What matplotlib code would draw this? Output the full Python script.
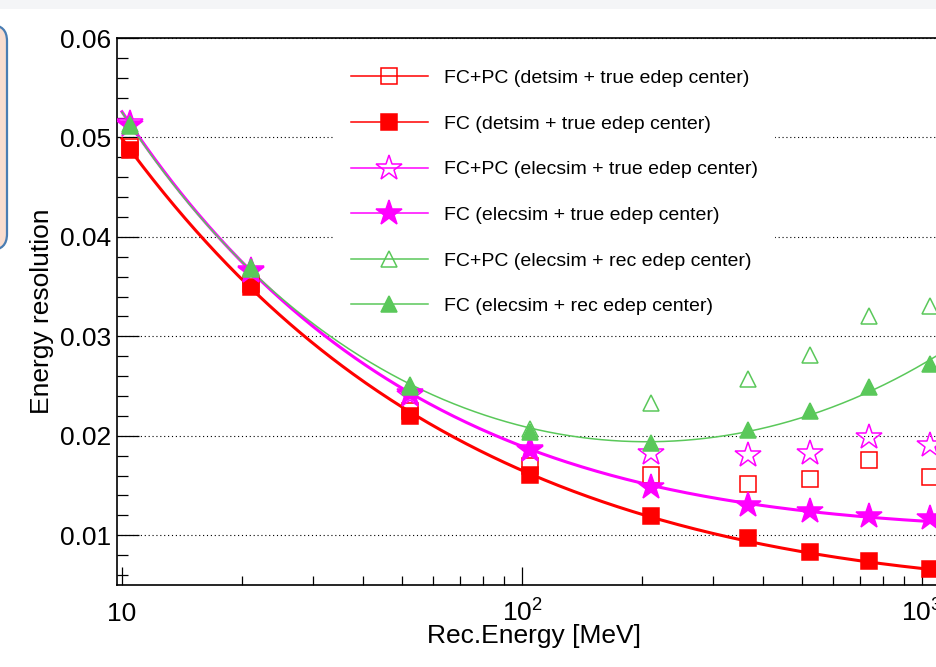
import numpy as np
import matplotlib
matplotlib.use("Agg")
import matplotlib.pyplot as plt
from matplotlib.lines import Line2D
from matplotlib.patches import FancyBboxPatch, Rectangle
from matplotlib.transforms import IdentityTransform
from matplotlib.ticker import (FixedLocator, FuncFormatter, MultipleLocator,
                               LogLocator, NullFormatter)

plt.rcParams["font.family"] = ["Liberation Sans", "DejaVu Sans"]
plt.rcParams["mathtext.fontset"] = "custom"
plt.rcParams["mathtext.rm"] = "Liberation Sans"
plt.rcParams["mathtext.it"] = "Liberation Sans:italic"

# Reconstructed energy points [MeV]
energy = [10.5, 21, 52.5, 105, 210, 367.5, 525, 735, 1050]

# Energy resolution for each configuration
fcpc_detsim_true = [0.0490, 0.0353, 0.0225, 0.0170, 0.0161, 0.0152, 0.0157, 0.0176, 0.0159]
fc_detsim_true = [0.0487, 0.0350, 0.0220, 0.0161, 0.0119, 0.0097, 0.0083, 0.0074, 0.0066]
fcpc_elecsim_true = [0.0515, 0.0367, 0.0241, 0.0187, 0.0183, 0.0181, 0.0183, 0.0199, 0.0191]
fc_elecsim_true = [0.0513, 0.0366, 0.0243, 0.0186, 0.0149, 0.0130, 0.0124, 0.0119, 0.0117]
fcpc_elecsim_rec = [0.0514, 0.0370, 0.0251, 0.0207, 0.0233, 0.0257, 0.0281, 0.0320, 0.0331]
fc_elecsim_rec = [0.0512, 0.0368, 0.0249, 0.0204, 0.0193, 0.0206, 0.0225, 0.0249, 0.0272]

labels = [
    "FC+PC (detsim + true edep center)",
    "FC (detsim + true edep center)",
    "FC+PC (elecsim + true edep center)",
    "FC (elecsim + true edep center)",
    "FC+PC (elecsim + rec edep center)",
    "FC (elecsim + rec edep center)",
]

RED = "#ff0000"
MAG = "#ff00ff"
GRN = "#5ac85a"

W, H, DPI = 936, 667, 100
fig = plt.figure(figsize=(W / DPI, H / DPI), dpi=DPI)
fig.patch.set_facecolor("white")

# page decorations: light band on top and a rounded box on the left edge
fig.patches.append(Rectangle((0, 1 - 9 / H), 1, 9 / H, transform=fig.transFigure,
                             facecolor="#f4f5f7", edgecolor="none", zorder=0))
fig.patches.append(FancyBboxPatch((-40, H - 250), 47, 225,
                                  boxstyle="round,pad=0,rounding_size=16",
                                  transform=IdentityTransform(),
                                  facecolor="#f9ddcf", edgecolor="#4a7db3",
                                  linewidth=1.6, zorder=0))

# axes geometry in pixels
ax_left, ax_right, ax_top, ax_bottom = 117, 960, 38, 585
ax = fig.add_axes([ax_left / W, 1 - ax_bottom / H,
                   (ax_right - ax_left) / W, (ax_bottom - ax_top) / H])
ax.set_xscale("log")
x_at_10 = 122
dec = 400.0
xmin = 10 ** (1 + (ax_left - x_at_10) / dec)
xmax = 10 ** (1 + (ax_right - x_at_10) / dec)
ax.set_xlim(xmin, xmax)
ax.set_ylim(0.005, 0.06)

E = np.array(energy, dtype=float)


def resolution_fit(values, rising=False):
    """Least-squares fit of sigma^2 = a/E + b/E^2 + c (+ d*E)."""
    cols = [1 / E, 1 / E ** 2, np.ones_like(E)]
    if rising:
        cols.append(E)
    A = np.vstack(cols).T
    coef, *_ = np.linalg.lstsq(A, np.asarray(values) ** 2, rcond=None)
    xs = np.logspace(1.0, np.log10(xmax), 400)
    B = [1 / xs, 1 / xs ** 2, np.ones_like(xs)]
    if rising:
        B.append(xs)
    ys = np.sqrt(np.clip(np.vstack(B).T @ coef, 0, None))
    return xs, ys


# fitted curves through the FC points
for vals, col, lw, rising in [(fc_detsim_true, RED, 2.2, False),
                              (fc_elecsim_true, MAG, 2.2, False),
                              (fc_elecsim_rec, GRN, 1.1, True)]:
    xs, ys = resolution_fit(vals, rising)
    ax.plot(xs, ys, color=col, lw=lw, zorder=2)

styles = [
    (fcpc_detsim_true, RED, "s", "none", 12),
    (fc_detsim_true, RED, "s", RED, 11),
    (fcpc_elecsim_true, MAG, "*", "none", 19),
    (fc_elecsim_true, MAG, "*", MAG, 19),
    (fcpc_elecsim_rec, GRN, "^", "none", 12),
    (fc_elecsim_rec, GRN, "^", GRN, 11),
]

handles = []
for (vals, col, mk, fc, ms), lab in zip(styles, labels):
    ax.plot(energy, vals, ls="none", marker=mk, ms=ms, mfc=fc, mec=col,
            mew=1.1, zorder=3)
    handles.append(Line2D([], [], color=col, lw=1.1, marker=mk, ms=ms,
                          mfc=fc, mec=col, mew=1.1, label=lab))

# axes styling
for side in ["left", "bottom", "top"]:
    ax.spines[side].set_linewidth(1.2)
    ax.spines[side].set_color("black")
ax.spines["right"].set_visible(False)

ax.yaxis.set_major_locator(MultipleLocator(0.01))
ax.yaxis.set_minor_locator(MultipleLocator(0.002))
ax.yaxis.set_major_formatter(FuncFormatter(lambda v, p: f"{v:.2f}"))

ax.xaxis.set_major_locator(FixedLocator([10, 100, 1000]))
ax.xaxis.set_minor_locator(LogLocator(base=10, subs=np.arange(2, 10), numticks=30))
ax.xaxis.set_minor_formatter(NullFormatter())
xlab = {10: "10", 100: r"$10^{2}$", 1000: r"$10^{3}$"}
ax.xaxis.set_major_formatter(FuncFormatter(lambda v, p: xlab.get(int(round(v)), "")))

ax.tick_params(axis="both", which="both", direction="in", top=False, right=False,
               colors="black", labelsize=19)
ax.tick_params(axis="y", which="major", length=16, width=0.9, pad=4)
ax.tick_params(axis="y", which="minor", length=8, width=0.9)
ax.tick_params(axis="x", which="major", length=13, width=0.9, pad=26)
ax.tick_params(axis="x", which="minor", length=6.5, width=0.9)
for t in ax.get_xticklabels():
    t.set_va("baseline")

ax.grid(axis="y", which="major", color="black", ls=(0, (1, 2.5)), lw=0.8)
ax.set_axisbelow(True)

ax.set_ylabel("Energy resolution", fontsize=19)
ax.yaxis.set_label_coords(42 / W, 1 - 311 / H, transform=fig.transFigure)
ax.yaxis.label.set_va("center")
ax.set_xlabel("Rec.Energy [MeV]", fontsize=19)
ax.xaxis.set_label_coords(534 / W, 1 - 636 / H, transform=fig.transFigure)
ax.xaxis.label.set_va("center")

leg = ax.legend(handles=handles, loc="upper left",
                bbox_to_anchor=(333 / W, 1 - 52 / H),
                bbox_transform=fig.transFigure, fontsize=14, frameon=True,
                facecolor="white", edgecolor="none", framealpha=1.0,
                fancybox=False, handlelength=4.0, handletextpad=0.8,
                labelspacing=1.44, borderpad=0.9, borderaxespad=0, numpoints=1)
leg.set_zorder(5)

fig.savefig("out.png", dpi=DPI)
